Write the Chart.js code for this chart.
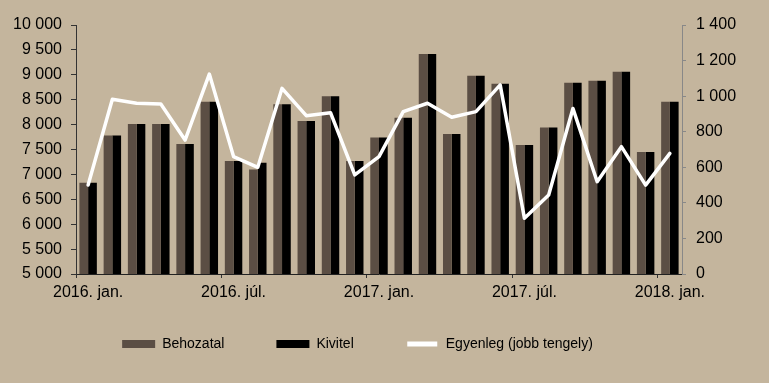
<!DOCTYPE html>
<html>
<head>
<meta charset="utf-8">
<script src="https://cdn.jsdelivr.net/npm/chart.js@4.4.1/dist/chart.umd.min.js"></script>
<style>
  html, body { margin: 0; padding: 0; background: #C4B59D; }
  canvas { display: block; }
</style>
</head>
<body>
<canvas id="c" width="769" height="383"></canvas>
<script>
const categories = [
  "2016. jan.", "2016. febr.", "2016. márc.", "2016. ápr.", "2016. máj.", "2016. jún.",
  "2016. júl.", "2016. aug.", "2016. szept.", "2016. okt.", "2016. nov.", "2016. dec.",
  "2017. jan.", "2017. febr.", "2017. márc.", "2017. ápr.", "2017. máj.", "2017. jún.",
  "2017. júl.", "2017. aug.", "2017. szept.", "2017. okt.", "2017. nov.", "2017. dec.",
  "2018. jan."
];
const behozatal = [6830, 7780, 8010, 8010, 7610, 8460, 7270, 7100, 8410, 8070, 8570, 7270,
                   7740, 8140, 9420, 7810, 8980, 8820, 7590, 7940, 8840, 8880, 9060, 7450, 8460];
const kivitel   = [6830, 7780, 8010, 8010, 7610, 8460, 7270, 7235, 8410, 8070, 8570, 7270,
                   7740, 8140, 9420, 7810, 8980, 8820, 7590, 7940, 8840, 8880, 9060, 7450, 8460];
const egyenleg  = [500, 982, 960, 956, 753, 1124, 660, 600, 1044, 890, 907, 557,
                   660, 913, 960, 881, 913, 1063, 313, 444, 931, 519, 716, 500, 678];
const seriesNames = ["Behozatal", "Kivitel", "Egyenleg (jobb tengely)"];
const leftTicks = { min: 5000, max: 10000, step: 500 };
const rightTicks = { min: 0, max: 1400, step: 200 };

const BG = "#C4B59D";
Chart.defaults.font.family = "Arial, 'Liberation Sans', sans-serif";
Chart.defaults.color = "#000";

const fmt = v => String(v).replace(/\B(?=(\d{3})+(?!\d))/g, " ");

const legendShift = {
  id: "legendShift",
  afterLayout(chart) {
    const lg = chart.legend;
    if (lg) {
      lg.left -= 27; lg.right -= 27;
      lg.top -= 19; lg.bottom -= 19;
    }
  }
};

new Chart(document.getElementById("c"), {
  type: "bar",
  data: {
    labels: categories,
    datasets: [
      { label: seriesNames[0], data: behozatal, backgroundColor: "#5B4E44", borderWidth: 0,
        yAxisID: "y", order: 1, categoryPercentage: 0.72, barPercentage: 1 },
      { label: seriesNames[1], data: kivitel, backgroundColor: "#000000", borderWidth: 0,
        yAxisID: "y", order: 1, categoryPercentage: 0.72, barPercentage: 1 },
      { type: "line", label: seriesNames[2], data: egyenleg, borderColor: "#FFFFFF",
        backgroundColor: "#FFFFFF", borderWidth: 3.5, pointRadius: 0, tension: 0,
        borderJoinStyle: "round", borderCapStyle: "round", yAxisID: "y1", order: 0 }
    ]
  },
  options: {
    responsive: false,
    devicePixelRatio: 1,
    animation: false,
    layout: { padding: { top: 25, bottom: 3, left: 0, right: 0 } },
    plugins: {
      tooltip: { enabled: false },
      legend: {
        position: "bottom",
        labels: {
          boxWidth: 33, boxHeight: 8, padding: 52,
          font: { size: 14 },
          color: "#000",
          generateLabels(chart) {
            const items = Chart.defaults.plugins.legend.labels.generateLabels(chart);
            items.sort((a, b) => a.datasetIndex - b.datasetIndex);
            items.forEach(it => {
              if (it.datasetIndex === 2) {
                it.fillStyle = "#FFFFFF";
                it.strokeStyle = BG;
                it.lineWidth = 3;
              } else {
                it.lineWidth = 0;
              }
            });
            return items;
          }
        }
      }
    },
    scales: {
      x: {
        offset: true,
        grid: {
          offset: true, drawOnChartArea: false, tickLength: 4,
          tickColor: ctx => (ctx.index % 6 === 0 ? "#333" : "rgba(0,0,0,0)")
        },
        border: { display: true, color: "#222", width: 1 },
        ticks: {
          autoSkip: false, maxRotation: 0, minRotation: 0, padding: 5,
          font: { size: 16 }, color: "#000",
          callback: (v, i) => (i % 6 === 0 ? categories[i] : "")
        },
        afterFit(scale) { scale.height = 30; }
      },
      y: {
        position: "left",
        min: leftTicks.min, max: leftTicks.max,
        ticks: { stepSize: leftTicks.step, padding: 9, font: { size: 16 }, color: "#000",
                 callback: v => fmt(v) },
        grid: { drawOnChartArea: false, tickLength: 5, tickColor: "#333" },
        border: { display: true, color: "#333", width: 1 },
        afterFit(scale) { scale.width = 76; }
      },
      y1: {
        position: "right",
        min: rightTicks.min, max: rightTicks.max,
        ticks: { stepSize: rightTicks.step, padding: 10, font: { size: 16 }, color: "#000",
                 callback: v => fmt(v) },
        grid: { drawOnChartArea: false, tickLength: 4, tickColor: "#888" },
        border: { display: true, color: "#888", width: 1 },
        afterFit(scale) { scale.width = 87; }
      }
    }
  },
  plugins: [legendShift]
});
</script>
</body>
</html>
